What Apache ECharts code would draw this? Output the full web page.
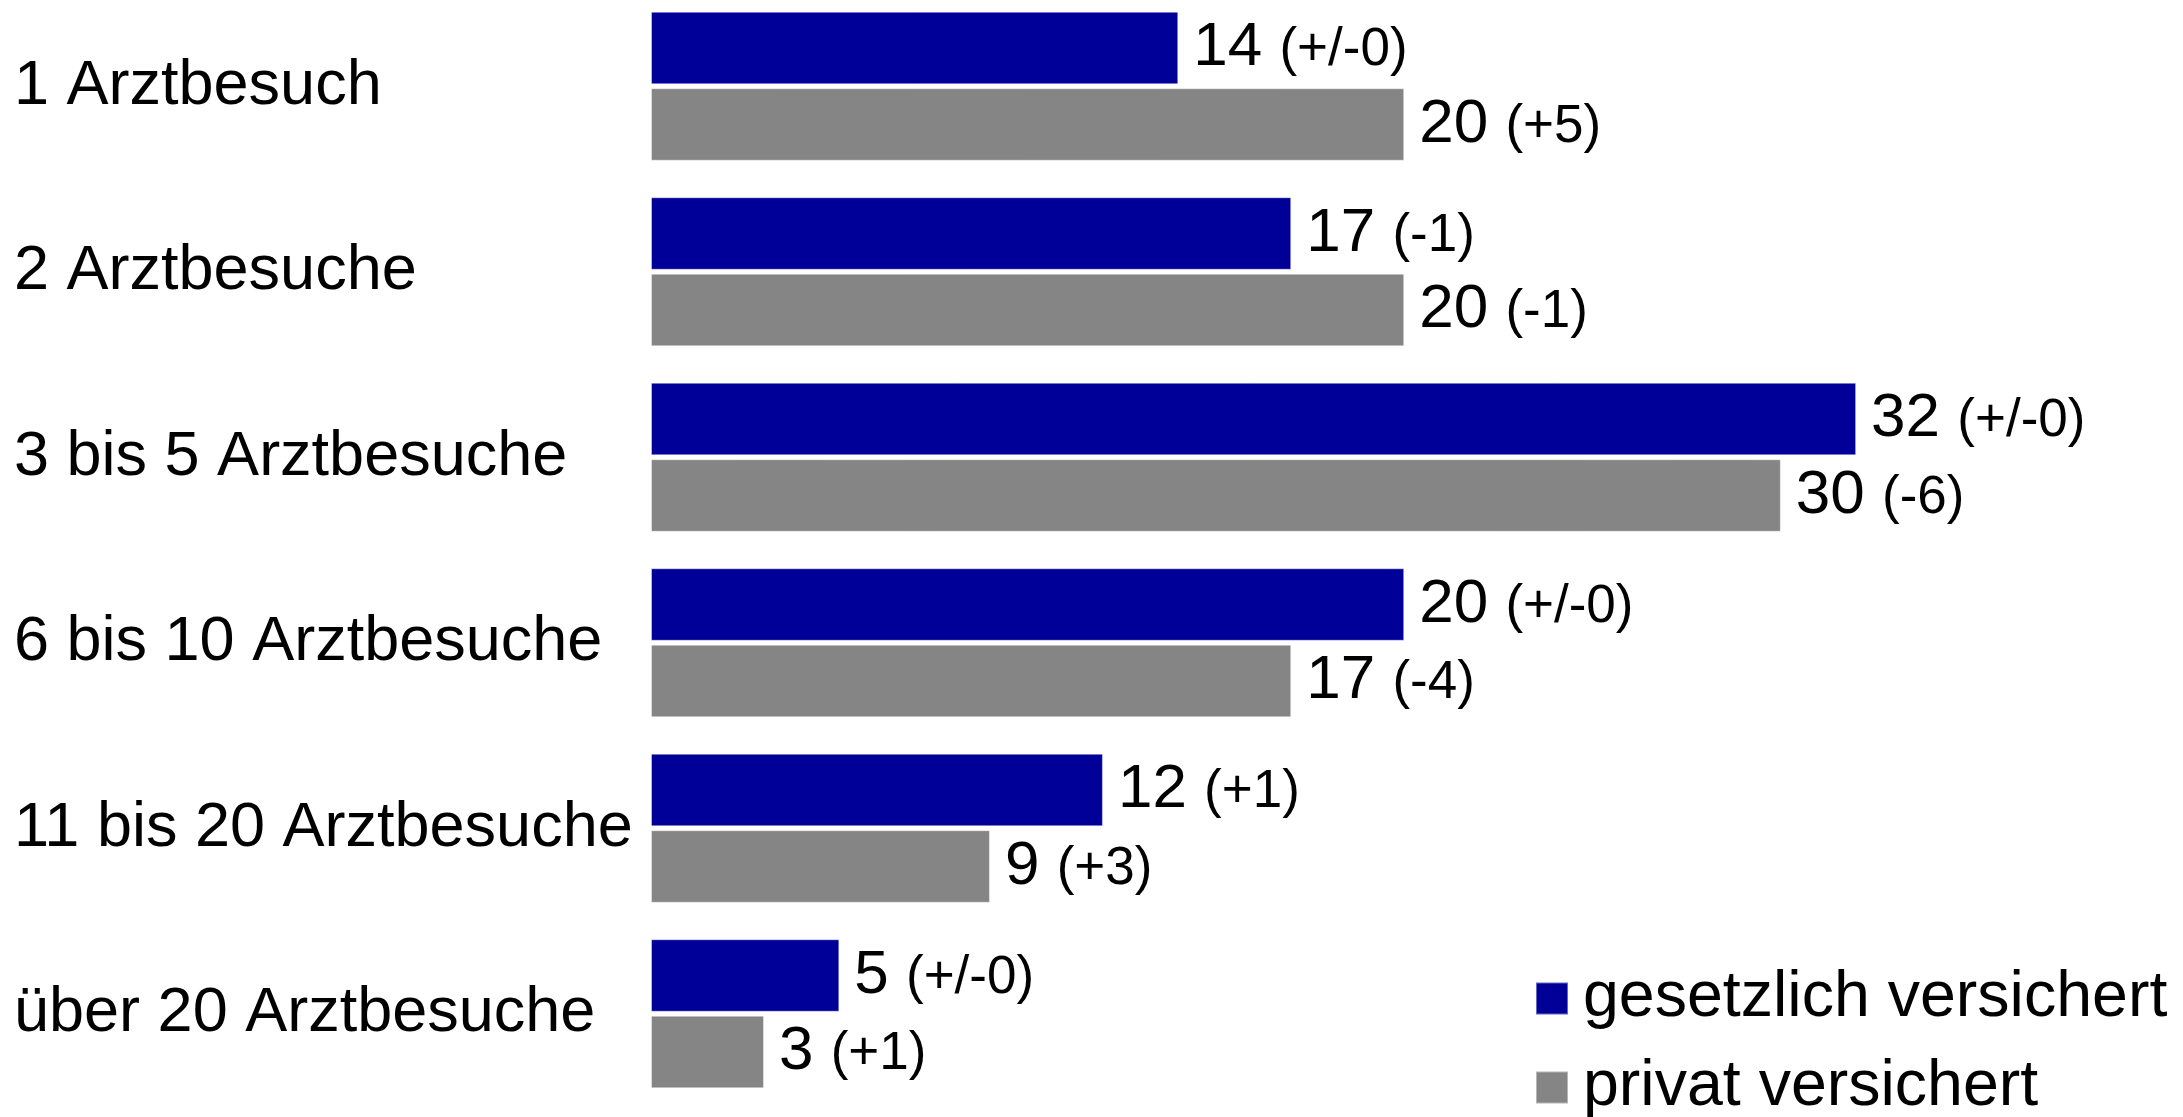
<!DOCTYPE html>
<html>
<head>
<meta charset="utf-8">
<script src="https://cdn.jsdelivr.net/npm/echarts@6/dist/echarts.min.js"></script>
<style>html,body{margin:0;padding:0;background:#fff;}#c{width:2183px;height:1117px;}</style>
</head>
<body>
<div id="c"></div>
<script>
var categories = ['1 Arztbesuch', '2 Arztbesuche', '3 bis 5 Arztbesuche', '6 bis 10 Arztbesuche', '11 bis 20 Arztbesuche', 'über 20 Arztbesuche'];
var seriesNames = ['gesetzlich versichert', 'privat versichert'];
var gesetzlich = [14, 17, 32, 20, 12, 5];
var gesetzlichChange = ['+/-0', '-1', '+/-0', '+/-0', '+1', '+/-0'];
var privat = [20, 20, 30, 17, 9, 3];
var privatChange = ['+5', '-1', '-6', '-4', '+3', '+1'];

var FONT = 'Liberation Sans, Arial, sans-serif';
var chart = echarts.init(document.getElementById('c'), null, {renderer: 'canvas'});

function makeLabel(changes) {
  return {
    show: true,
    position: 'right',
    distance: 15,
    formatter: function (p) { return '{v|' + p.value + ' }{d|(' + changes[p.dataIndex] + ')}'; },
    rich: {
      v: {fontSize: 62, fontFamily: FONT, color: '#000', lineHeight: 62, verticalAlign: 'bottom'},
      d: {fontSize: 53, fontFamily: FONT, color: '#000', lineHeight: 53, verticalAlign: 'bottom', padding: [0, 0, 2, 0]}
    }
  };
}

chart.setOption({
  animation: false,
  backgroundColor: '#fff',
  grid: {left: 651, width: 1506.4, top: -6.5, height: 1113, containLabel: false, outerBoundsMode: 'none'},
  legend: {
    orient: 'vertical',
    left: 1535,
    top: 966,
    height: 240,
    padding: 0,
    itemWidth: 32,
    itemHeight: 32,
    itemGap: 24,
    icon: 'rect',
    textStyle: {fontSize: 64.5, fontFamily: FONT, color: '#000', padding: [0, 0, 0, 10]},
    data: seriesNames
  },
  xAxis: {type: 'value', min: 0, max: 40, show: false, splitLine: {show: false}},
  yAxis: {
    type: 'category',
    data: categories,
    inverse: true,
    axisLine: {show: false},
    axisTick: {show: false},
    axisLabel: {fontSize: 63, fontFamily: FONT, color: '#000', align: 'left', margin: 637, padding: [8, 0, 0, 0]}
  },
  series: [
    {
      name: seriesNames[0], type: 'bar', data: gesetzlich,
      barWidth: 72.5, barGap: '5.5%',
      itemStyle: {color: '#000099', borderColor: 'rgba(255,255,255,0.4)', borderWidth: 1},
      label: makeLabel(gesetzlichChange)
    },
    {
      name: seriesNames[1], type: 'bar', data: privat,
      barWidth: 72.5, barGap: '5.5%',
      itemStyle: {color: '#858585', borderColor: 'rgba(255,255,255,0.4)', borderWidth: 1},
      label: makeLabel(privatChange)
    }
  ]
});
</script>
</body>
</html>
